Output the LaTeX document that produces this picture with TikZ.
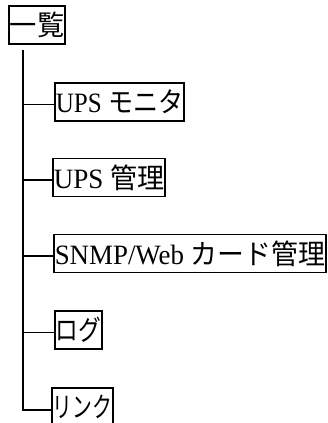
\documentclass[tikz,border=0pt]{standalone}
\usepackage{fontspec}
\usepackage{graphicx}
\setmainfont{Liberation Serif}
\newfontfamily\jp{Noto Sans CJK JP}
\newcommand{\fitto}[2]{\resizebox{#1pt}{\height}{#2}}
\begin{document}
\begin{tikzpicture}[x=1pt,y=1pt,
  item/.style={draw=black, line width=1.6pt, inner xsep=1pt, inner ysep=0pt,
    minimum height=38pt, anchor=west, font=\fontsize{28}{32}\selectfont},
  link/.style={draw=black, line width=1.6pt}]
\useasboundingbox (0,0) rectangle (328,423);
\clip (0,0) rectangle (328,423);
\node[item] (root) at (8,398) {\fitto{54.4}{\jp 一覧}};
\coordinate (top) at (23,373);
\node[item] (n1) at (54,321) {\fitto{127.4}{UPS {\jp モニタ}}};
\node[item] (n2) at (52,245.5) {\fitto{110.4}{UPS {\jp 管理}}};
\node[item] (n3) at (53,169.5) {\fitto{270.4}{SNMP/Web {\jp カード管理}}};
\node[item] (n4) at (54,93) {\fitto{45.4}{\jp ログ}};
\node[item] (n5) at (51,16) {\fitto{59.4}{\jp リンク}};
\foreach \n in {n1,n2,n3,n4}
  \coordinate (c\n) at ([yshift=-2.5pt]\n.west);
\coordinate (cn5) at ([yshift=-3pt]n5.west);
\draw[link] (top) -- (top |- cn5) -- (cn5);
\foreach \n in {n1,n2,n3,n4}
  \draw[link] (top |- c\n) -- (c\n);
\end{tikzpicture}
\end{document}
